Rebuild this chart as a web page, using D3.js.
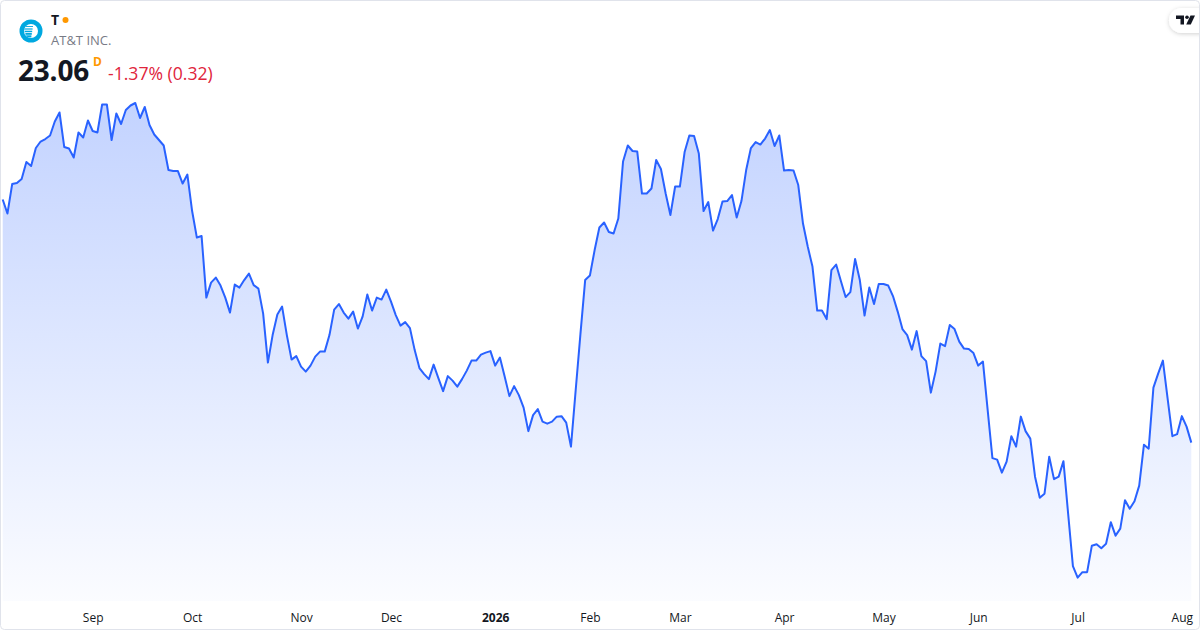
<!DOCTYPE html>
<html lang="en">
<head>
    <meta charset="UTF-8">
    <title>AT&T area chart</title>
    <script src="https://d3js.org/d3.v7.min.js"></script>
    <style>
        html, body {
            margin: 0;
            padding: 0;
            background: #ffffff;
        }
        svg {
            display: block;
            font-family: "Open Sans", "Noto Sans", sans-serif;
        }
        .xAxis text {
            font-size: 12px;
            fill: #131722;
        }
    </style>
</head>
<body>
<svg width="1200" height="630"></svg>
<script>
    // daily closes, one per trading day (Aug 5 2025 -> Aug 5 2026)
    let prices = [
        27.92, 27.64, 28.23, 28.25, 28.33, 28.67, 28.59, 28.95, 29.08, 29.13,
        29.20, 29.48, 29.66, 28.97, 28.94, 28.76, 29.26, 29.16, 29.50, 29.29,
        29.26, 29.82, 29.82, 29.11, 29.64, 29.43, 29.71, 29.80, 29.85, 29.55,
        29.77, 29.41, 29.22, 29.11, 29.00, 28.51, 28.49, 28.49, 28.24, 28.42,
        27.69, 27.16, 27.19, 25.96, 26.26, 26.36, 26.20, 25.96, 25.66, 26.22,
        26.16, 26.31, 26.44, 26.21, 26.14, 25.64, 24.66, 25.21, 25.62, 25.78,
        25.21, 24.72, 24.79, 24.58, 24.48, 24.60, 24.78, 24.88, 24.88, 25.21,
        25.72, 25.83, 25.66, 25.54, 25.68, 25.34, 25.58, 26.02, 25.70, 25.96,
        25.92, 26.12, 25.88, 25.61, 25.40, 25.47, 25.35, 24.91, 24.55, 24.43,
        24.33, 24.62, 24.35, 24.09, 24.39, 24.30, 24.18, 24.33, 24.50, 24.70,
        24.70, 24.82, 24.86, 24.89, 24.60, 24.76, 24.38, 23.99, 24.19, 24.01,
        23.76, 23.29, 23.61, 23.73, 23.48, 23.44, 23.48, 23.58, 23.59, 23.46,
        22.98, 24.11, 25.23, 26.31, 26.40, 26.91, 27.36, 27.46, 27.27, 27.24,
        27.54, 28.68, 29.00, 28.89, 28.88, 28.04, 28.04, 28.14, 28.71, 28.53,
        28.04, 27.61, 28.18, 28.18, 28.87, 29.20, 29.19, 28.84, 27.69, 27.87,
        27.30, 27.53, 27.88, 27.89, 28.01, 27.56, 27.89, 28.51, 28.95, 29.07,
        29.02, 29.14, 29.31, 28.99, 29.20, 28.50, 28.51, 28.50, 28.21, 27.44,
        26.98, 26.58, 25.70, 25.70, 25.53, 26.51, 26.62, 26.29, 25.97, 26.07,
        26.73, 26.31, 25.60, 26.16, 25.83, 26.23, 26.23, 26.20, 25.99, 25.68,
        25.33, 25.21, 24.92, 25.29, 24.79, 24.69, 24.06, 24.48, 25.04, 24.99,
        25.41, 25.33, 25.08, 24.94, 24.93, 24.85, 24.60, 24.68, 23.71, 22.75,
        22.72, 22.46, 22.68, 23.19, 22.98, 23.58, 23.29, 23.14, 22.38, 21.96,
        22.04, 22.78, 22.33, 22.38, 22.69, 21.63, 20.59, 20.36, 20.47, 20.47,
        21.00, 21.03, 20.95, 21.04, 21.47, 21.20, 21.34, 21.91, 21.74, 21.89,
        22.20, 23.02, 22.94, 24.16, 24.44, 24.70, 23.94, 23.19, 23.23, 23.59,
        23.38, 23.06
    ];
    // first trading day of each month (bar index) and its label
    let tickIndex = [19, 40, 63, 82, 104, 124, 143, 165, 186, 206, 227, 249];
    let tickLabels = ["Sep", "Oct", "Nov", "Dec", "2026", "Feb", "Mar", "Apr", "May", "Jun", "Jul", "Aug"];
    // header texts
    let symbol = "T";
    let companyName = "AT&T INC.";
    let lastPrice = "23.06";
    let changeText = "-1.37% (0.32)";

    let W = 1200, H = 630;
    let svg = d3.select('svg');
    // pane area (no price scale shown)
    let pane = {left: 0, right: 1200, top: 0, bottom: 601};
    let margins = {left: 2.7, right: 8.7, top: 103, bottom: 23.3};

    // scales
    let xScale = d3.scaleLinear()
        .domain([0, prices.length - 1])
        .range([margins.left, W - margins.right]);
    let yScale = d3.scaleLinear()
        .domain(d3.extent(prices))
        .range([pane.bottom - margins.bottom, margins.top]);

    // gradient for the area
    let defs = svg.append('defs');
    let grad = defs.append('linearGradient')
        .attr('id', 'areaFill')
        .attr('gradientUnits', 'userSpaceOnUse')
        .attr('x1', 0).attr('x2', 0)
        .attr('y1', margins.top).attr('y2', pane.bottom);
    grad.append('stop').attr('offset', 0).attr('stop-color', '#2962ff').attr('stop-opacity', 0.28);
    grad.append('stop').attr('offset', 1).attr('stop-color', '#2962ff').attr('stop-opacity', 0.02);

    let shadow = defs.append('filter').attr('id', 'pillShadow')
        .attr('x', '-50%').attr('y', '-50%').attr('width', '200%').attr('height', '200%');
    shadow.append('feDropShadow')
        .attr('dx', 0).attr('dy', 1).attr('stdDeviation', 2)
        .attr('flood-color', '#000').attr('flood-opacity', 0.18);

    // background
    svg.append('rect').attr('x', 0).attr('y', 0).attr('width', W).attr('height', H).attr('fill', '#fff');

    // area + line
    let area = d3.area()
        .x(function (d, i) { return xScale(i); })
        .y0(pane.bottom)
        .y1(function (d) { return yScale(d); });
    let line = d3.line()
        .x(function (d, i) { return xScale(i); })
        .y(function (d) { return yScale(d); });

    svg.append('path').datum(prices)
        .attr('d', area)
        .attr('fill', 'url(#areaFill)');
    svg.append('path').datum(prices)
        .attr('d', line)
        .attr('fill', 'none')
        .attr('stroke', '#2962ff')
        .attr('stroke-width', 2)
        .attr('stroke-linejoin', 'round');

    // time axis
    let xAxis = d3.axisBottom(xScale)
        .tickValues(tickIndex)
        .tickSize(0)
        .tickPadding(0)
        .tickFormat(function (d, i) { return tickLabels[i]; });
    let x_axis = svg.append('g')
        .attr('class', 'xAxis')
        .attr('transform', 'translate(0,' + 613 + ')')
        .call(xAxis);
    x_axis.select('.domain').remove();
    x_axis.selectAll('text')
        .attr('dy', '0.71em')
        .style('font-family', '"Open Sans", sans-serif')
        .style('font-weight', function (d, i) { return tickLabels[i] === "2026" ? 700 : 400; });

    // header: logo
    let logo = svg.append('g').attr('transform', 'translate(31,31)');
    logo.append('circle').attr('r', 11.5).attr('fill', '#00a8e0');
    let globeClip = defs.append('clipPath').attr('id', 'globeClip');
    globeClip.append('circle').attr('r', 7);
    logo.append('circle').attr('r', 7).attr('fill', '#fff');
    let stripes = [-5, -2.6, -0.3, 2, 4.3];
    logo.append('g').attr('clip-path', 'url(#globeClip)')
        .selectAll('rect').data(stripes).enter().append('rect')
        .attr('x', function (d, i) { return -8 + i * 0.8; })
        .attr('y', function (d) { return d; })
        .attr('width', function (d, i) { return 10 - i * 1.2; })
        .attr('height', function (d, i) { return 0.9 + i * 0.3; })
        .attr('fill', '#00a8e0');

    svg.append('text').attr('x', 51).attr('y', 25)
        .style('font-size', '14px').style('font-weight', 700).attr('fill', '#131722')
        .text(symbol);
    svg.append('circle').attr('cx', 65.5).attr('cy', 20).attr('r', 3).attr('fill', '#ff9800');
    svg.append('text').attr('x', 51).attr('y', 45)
        .style('font-size', '13px').attr('fill', '#787b86')
        .text(companyName);
    svg.append('text').attr('x', 18).attr('y', 81)
        .style('font-size', '28px').style('font-weight', 700).attr('fill', '#131722')
        .style('letter-spacing', '-0.2px')
        .text(lastPrice);
    svg.append('text').attr('x', 93).attr('y', 66)
        .style('font-size', '12px').style('font-weight', 700).attr('fill', '#ff9800')
        .text("D");
    svg.append('text').attr('x', 108).attr('y', 80)
        .style('font-size', '17.6px').attr('fill', '#e0253c')
        .text(changeText);

    // tradingview pill
    svg.append('rect').attr('x', 1169).attr('y', 8).attr('width', 44).attr('height', 25).attr('rx', 12.5)
        .attr('fill', '#fff').attr('filter', 'url(#pillShadow)');
    let tv = svg.append('g').attr('transform', 'translate(1176,15.5)').attr('fill', '#131722');
    tv.append('path').attr('d', 'M0,0 H8 V9 H4.5 V3.4 H0 Z');
    tv.append('circle').attr('cx', 11).attr('cy', 1.7).attr('r', 1.8);
    tv.append('path').attr('d', 'M14.5,0 H19 L14.8,9 H10.2 Z');

    // widget border
    svg.append('rect').attr('x', 0.5).attr('y', 0.5).attr('width', W - 1).attr('height', H - 1)
        .attr('rx', 4).attr('fill', 'none').attr('stroke', '#e0e3eb');
</script>
</body>
</html>
